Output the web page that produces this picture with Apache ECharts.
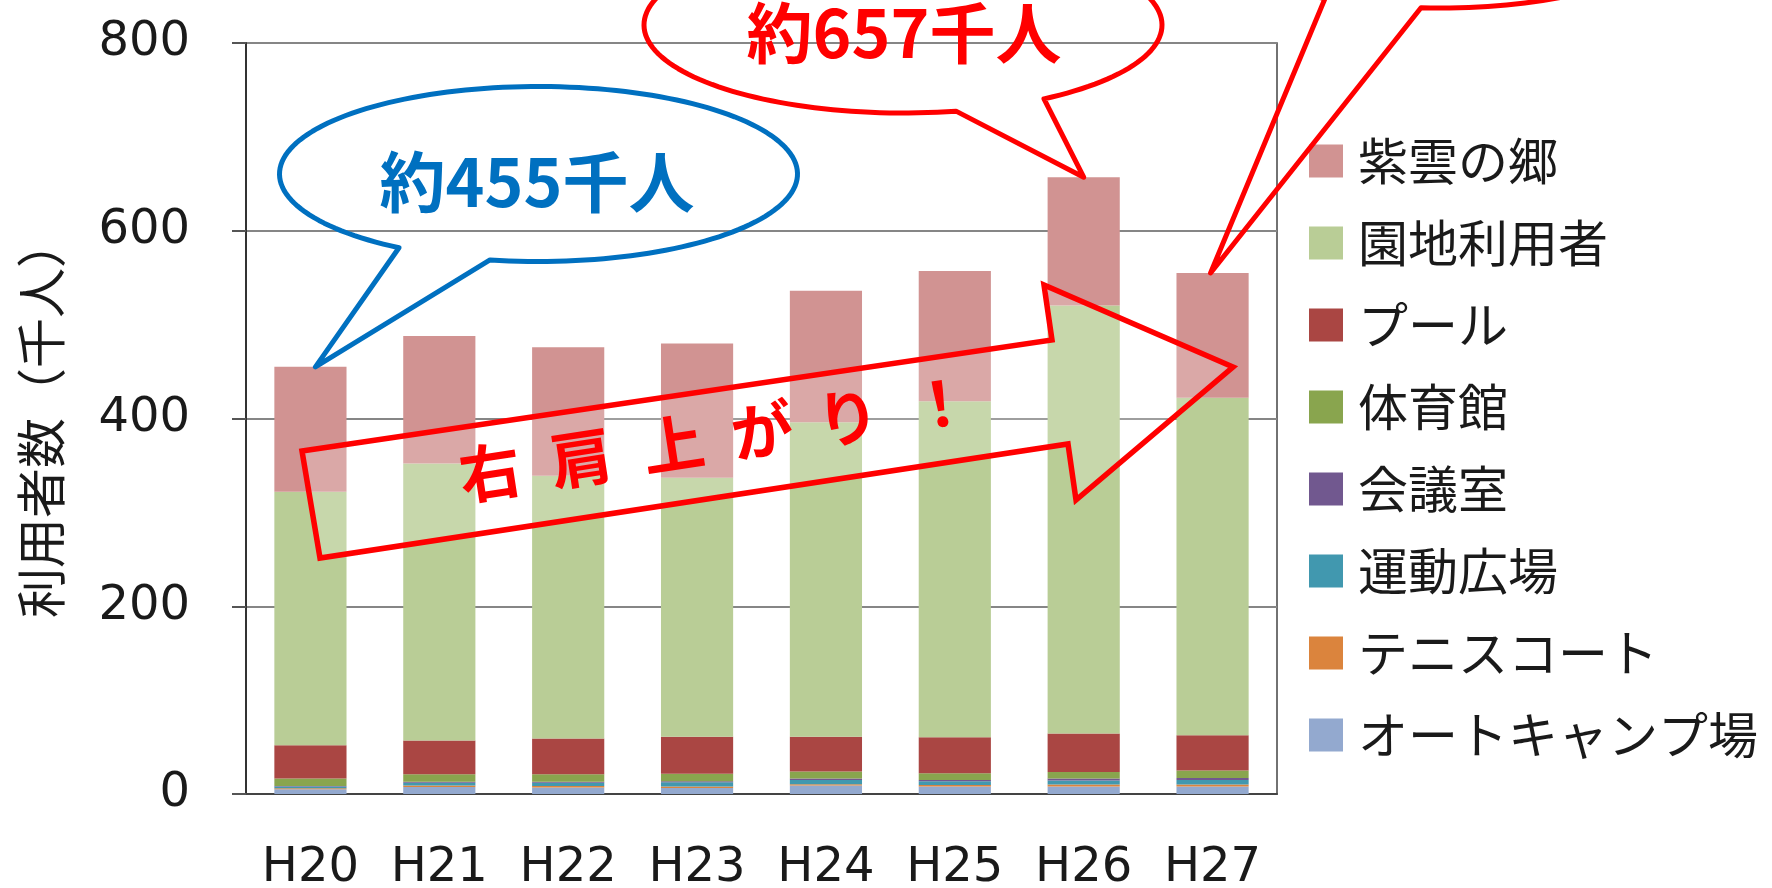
<!DOCTYPE html>
<html>
<head>
<meta charset="utf-8">
<script src="https://cdn.jsdelivr.net/npm/echarts@6/dist/echarts.min.js"></script>
<style>
html,body{margin:0;padding:0;background:#fff;}
#main{width:1772px;height:888px;}
</style>
</head>
<body>
<div id="main"></div>
<script>
// ---- data (千人) ----
const categories = ['H20','H21','H22','H23','H24','H25','H26','H27'];
const autoCamp = [5, 7.5, 7, 6.5, 9, 8, 8, 8];          // オートキャンプ場
const tennis   = [1, 1.5, 1.5, 1.5, 1.5, 1.5, 2, 2];    // テニスコート
const ground   = [2, 3, 3.5, 4.5, 4.5, 4, 4.5, 5];      // 運動広場
const meeting  = [0.5, 1, 1, 1, 1.5, 1.5, 2, 2];        // 会議室
const gym      = [8, 8, 8, 8, 7.5, 7, 7, 8];            // 体育館
const pool     = [35.5, 36, 38, 39.5, 37, 38.5, 41, 37.5]; // プール
const park     = [270, 295, 280, 276, 335, 358, 456, 359.5]; // 園地利用者
const shiun    = [133, 136, 137, 143, 140, 138.5, 136.5, 133]; // 紫雲の郷
const yTicks = [0, 200, 400, 600, 800];
const seriesNames = ['オートキャンプ場','テニスコート','運動広場','会議室','体育館','プール','園地利用者','紫雲の郷'];
const seriesData = [autoCamp, tennis, ground, meeting, gym, pool, park, shiun];
const seriesColors = ['#93A9CF','#DB843D','#4198AF','#71588F','#89A54E','#AA4643','#B9CD96','#D19392'];
const yAxisName = '利用者数（千人）';
const callout1Text = '約455千人';
const callout2Text = '約657千人';
const arrowChars = ['右','肩','上','が','り','！'];

const totals = categories.map((c, i) => seriesData.reduce((s, arr) => s + arr[i], 0));

const chart = echarts.init(document.getElementById('main'));
const cjk = '"Noto Sans CJK JP", "Noto Sans", sans-serif';
const num = '"DejaVu Sans", Verdana, sans-serif';

chart.setOption({
  animation: false,
  backgroundColor: '#ffffff',
  grid: { left: 246, right: 495, top: 43, bottom: 94, outerBoundsMode: 'none', containLabel: false,
          show: true, borderColor: '#444', borderWidth: 1.5, backgroundColor: 'transparent' },
  legend: {
    orient: 'vertical', left: 1309, top: 136, padding: 0,
    itemWidth: 34, itemHeight: 33, itemGap: 32,
    icon: 'rect', selectedMode: false,
    data: seriesNames.slice().reverse(),
    textStyle: { fontSize: 50, lineHeight: 50, fontFamily: cjk, color: '#1a1a1a', padding: [0, 0, 0, 10] }
  },
  xAxis: {
    type: 'category', data: categories,
    axisTick: { show: false },
    axisLine: { lineStyle: { color: '#444', width: 2 } },
    axisLabel: { fontSize: 48, fontFamily: num, color: '#1a1a1a', margin: 51 }
  },
  yAxis: {
    type: 'value', min: 0, max: 800, interval: 200,
    axisLine: { show: true, lineStyle: { color: '#333', width: 2 } },
    axisTick: { show: true, length: 14, lineStyle: { color: '#555', width: 2 } },
    splitLine: { lineStyle: { color: '#868686', width: 2 } },
    axisLabel: { fontSize: 48, fontFamily: num, color: '#1a1a1a', margin: 56,
      formatter: v => yTicks.indexOf(v) >= 0 ? String(v) : '' }
  },
  series: seriesNames.map((n, k) => ({
    name: n, type: 'bar', stack: 'total', barWidth: '56%',
    data: seriesData[k], itemStyle: { color: seriesColors[k] }
  }))
});

function calloutPoints(cx, cy, rx, ry, xa, xb, tip) {
  const ta = Math.acos(Math.max(-1, Math.min(1, (xa - cx) / rx)));
  const tb = Math.acos(Math.max(-1, Math.min(1, (xb - cx) / rx)));
  const tR = Math.min(ta, tb), tL = Math.max(ta, tb) - 2 * Math.PI;
  const pts = [];
  const N = 160;
  for (let i = 0; i <= N; i++) {
    const t = tR + (tL - tR) * i / N;
    pts.push([cx + rx * Math.cos(t), cy + ry * Math.sin(t)]);
  }
  pts.push(tip);
  return pts;
}

const tip1 = chart.convertToPixel({ xAxisIndex: 0, yAxisIndex: 0 }, ['H20', totals[0]]);
const tip2 = chart.convertToPixel({ xAxisIndex: 0, yAxisIndex: 0 }, ['H26', totals[6]]);
const tip3 = chart.convertToPixel({ xAxisIndex: 0, yAxisIndex: 0 }, ['H27', totals[7]]);

const blue = '#0070C0', red = '#FF0000';
const graphics = [];

// y axis name
graphics.push({ type: 'text', x: 41, y: 418, rotation: Math.PI / 2, z: 10,
  style: { text: yAxisName, font: '50px ' + cjk, fill: '#1a1a1a', align: 'center', verticalAlign: 'middle', textAlign: 'center', textVerticalAlign: 'middle' } });

// arrow
graphics.push({ type: 'polygon', z: 20,
  shape: { points: [[302,451],[1052,340],[1044,285],[1233,367],[1076,500],[1068,444],[320,558]] },
  style: { fill: 'rgba(255,255,255,0.2)', stroke: red, lineWidth: 5.5, lineJoin: 'miter' } });
const a0x = 490, a0y = 472, slope = -0.153;
const charX = [490, 581, 673, 762, 848, 940];
arrowChars.forEach((ch, i) => {
  const x = charX[i];
  graphics.push({ type: 'text', x: x, y: a0y + slope * (x - a0x), rotation: Math.atan(-slope), z: 21,
    style: { text: ch, font: 'bold 62px ' + cjk, fill: red, align: 'center', verticalAlign: 'middle', textAlign: 'center', textVerticalAlign: 'middle' } });
});

// blue callout
graphics.push({ type: 'polygon', z: 22,
  shape: { points: calloutPoints(538.5, 174, 259, 87.5, 399, 490, [tip1[0] + 5, tip1[1]]) },
  style: { fill: 'none', stroke: blue, lineWidth: 5, lineJoin: 'round' } });
graphics.push({ type: 'text', x: 537, y: 182, z: 23,
  style: { text: callout1Text, font: 'bold 66px ' + cjk, fill: blue, align: 'center', verticalAlign: 'middle', textAlign: 'center', textVerticalAlign: 'middle' } });

// red callout (H26)
graphics.push({ type: 'polygon', z: 22,
  shape: { points: calloutPoints(903, 25, 259, 88, 956, 1044, [tip2[0], tip2[1]]) },
  style: { fill: 'none', stroke: red, lineWidth: 5, lineJoin: 'round' } });
graphics.push({ type: 'text', x: 904, y: 33, z: 23,
  style: { text: callout2Text, font: 'bold 66px ' + cjk, fill: red, align: 'center', verticalAlign: 'middle', textAlign: 'center', textVerticalAlign: 'middle' } });

// red callout (H27), mostly above the view
graphics.push({ type: 'polygon', z: 22,
  shape: { points: calloutPoints(1440, -84, 260, 92, 1325, 1421, [tip3[0] - 2, tip3[1]]) },
  style: { fill: 'none', stroke: red, lineWidth: 5, lineJoin: 'round' } });

chart.setOption({ graphic: graphics });
</script>
</body>
</html>
